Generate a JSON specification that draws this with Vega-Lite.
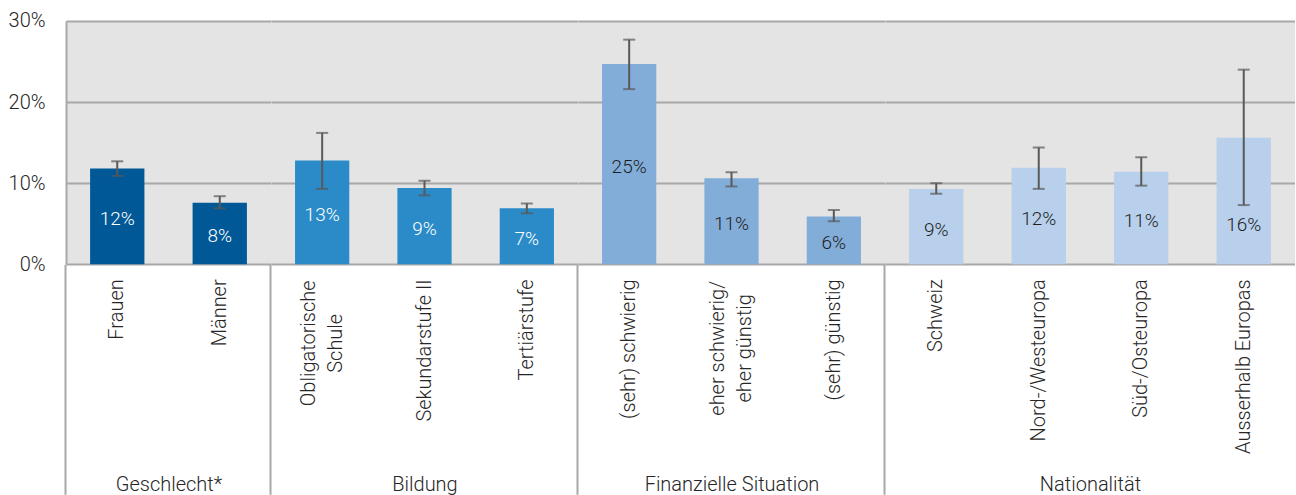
{
  "$schema": "https://vega.github.io/schema/vega-lite/v6.json",
  "padding": {"top": 11, "left": 8, "right": 0, "bottom": 0},
  "config": {"view": {"fill": "#E4E4E4", "stroke": null}, "font": "Roboto", "concat": {"spacing": 0}},
  "data": {"values": [
    {"group": "Geschlecht*", "cat": "Frauen", "value": 0.118, "lo": 0.109, "hi": 0.127},
    {"group": "Geschlecht*", "cat": "Männer", "value": 0.076, "lo": 0.069, "hi": 0.084},
    {"group": "Bildung", "cat": "Obligatorische|Schule", "value": 0.128, "lo": 0.093, "hi": 0.162},
    {"group": "Bildung", "cat": "Sekundarstufe II", "value": 0.094, "lo": 0.085, "hi": 0.103},
    {"group": "Bildung", "cat": "Tertiärstufe", "value": 0.069, "lo": 0.063, "hi": 0.075},
    {"group": "Finanzielle Situation", "cat": "(sehr) schwierig", "value": 0.247, "lo": 0.216, "hi": 0.277},
    {"group": "Finanzielle Situation", "cat": "eher schwierig/|eher günstig", "value": 0.106, "lo": 0.096, "hi": 0.1135},
    {"group": "Finanzielle Situation", "cat": "(sehr) günstig", "value": 0.059, "lo": 0.053, "hi": 0.067},
    {"group": "Nationalität", "cat": "Schweiz", "value": 0.093, "lo": 0.087, "hi": 0.100},
    {"group": "Nationalität", "cat": "Nord-/Westeuropa", "value": 0.119, "lo": 0.093, "hi": 0.144},
    {"group": "Nationalität", "cat": "Süd-/Osteuropa", "value": 0.114, "lo": 0.097, "hi": 0.132},
    {"group": "Nationalität", "cat": "Ausserhalb Europas", "value": 0.156, "lo": 0.073, "hi": 0.240}
  ]},
  "bounds": "flush",
  "spacing": 0,
  "hconcat": [
    {
      "width": 205, "height": 243.3,
      "transform": [{"filter": "datum.group === 'Geschlecht*'"}],
      "encoding": {"x": {"field": "cat", "type": "nominal", "sort": null,
        "scale": {"paddingInner": 0.47, "paddingOuter": 0.235},
        "axis": {"title": "Geschlecht*", "titleY": 220, "titleBaseline": "middle", "titleFont": "Roboto", "titleFontSize": 20, "titleFontWeight": 300, "titleColor": "#262626",
          "labelAngle": -90, "labelAlign": "right", "labelBaseline": "middle", "labelPadding": -215.5, "labelFont": "Roboto", "labelFontSize": 20, "labelFontWeight": 300, "labelColor": "#262626", "labelExpr": "split(datum.label, '|')", "labelLineHeight": 27, "labelLimit": 400, "labelOverlap": false,
          "domain": false, "grid": false, "ticks": true, "tickSize": 230, "tickWidth": 2, "bandPosition": -0.4434,
          "tickColor": {"condition": {"test": "datum.index === 0", "value": "#A8A8A8"}, "value": "transparent"}}}},
      "layer": [
        {"layer": [
          {"mark": {"type": "bar", "color": "#005896"},
           "encoding": {"y": {"field": "value", "type": "quantitative", "scale": {"domain": [0, 0.3], "nice": false},
             "axis": {"title": null, "values": [0, 0.1, 0.2, 0.3], "format": ".0%", "labelFont": "Roboto", "labelFontSize": 20, "labelFontWeight": 300, "labelColor": "#262626", "labelPadding": 21, "ticks": false, "domain": true, "domainColor": "#A8A8A8", "domainWidth": 2, "grid": true, "gridColor": "#A8A8A8", "gridWidth": 2}}}},
          {"mark": {"type": "rule", "color": "#595959", "strokeWidth": 2},
           "encoding": {"y": {"field": "lo", "type": "quantitative", "title": null}, "y2": {"field": "hi"}}},
          {"mark": {"type": "tick", "color": "#595959", "size": 12, "thickness": 2},
           "encoding": {"y": {"field": "lo", "type": "quantitative", "title": null}}},
          {"mark": {"type": "tick", "color": "#595959", "size": 12, "thickness": 2},
           "encoding": {"y": {"field": "hi", "type": "quantitative", "title": null}}}
        ]},
        {"mark": {"type": "text", "color": "#FFFFFF", "font": "Roboto", "fontSize": 19, "fontWeight": 300, "baseline": "middle", "dy": 3},
         "encoding": {"y": {"field": "value", "type": "quantitative", "scale": {"domain": [0, 0.6], "nice": false}, "axis": null},
           "text": {"field": "value", "type": "quantitative", "format": ".0%"}}}
      ],
      "resolve": {"scale": {"y": "independent"}}
    },
    {
      "width": 307, "height": 243.3,
      "transform": [{"filter": "datum.group === 'Bildung'"}],
      "encoding": {"x": {"field": "cat", "type": "nominal", "sort": null,
        "scale": {"paddingInner": 0.47, "paddingOuter": 0.235},
        "axis": {"title": "Bildung", "titleY": 220, "titleBaseline": "middle", "titleFont": "Roboto", "titleFontSize": 20, "titleFontWeight": 300, "titleColor": "#262626",
          "labelAngle": -90, "labelBaseline": "middle", "labelFont": "Roboto", "labelFontSize": 20, "labelFontWeight": 300, "labelColor": "#262626", "labelExpr": "split(datum.label, '|')", "labelLineHeight": 27, "labelLimit": 400, "labelOverlap": false,
          "labelAlign": {"expr": "datum.value === 'Obligatorische|Schule' ? 'center' : 'right'"},
          "labelPadding": {"expr": "datum.value === 'Obligatorische|Schule' ? -151.5 : -215.5"},
          "labelOffset": {"expr": "datum.value === 'Obligatorische|Schule' ? -13.5 : 0"},
          "domain": false, "grid": false, "ticks": true, "tickSize": 230, "tickWidth": 2, "bandPosition": -0.4434,
          "tickColor": {"condition": {"test": "datum.index === 0", "value": "#A8A8A8"}, "value": "transparent"}}}},
      "layer": [
        {"layer": [
          {"mark": {"type": "bar", "color": "#2B8BC8"},
           "encoding": {"y": {"field": "value", "type": "quantitative", "scale": {"domain": [0, 0.3], "nice": false},
             "axis": {"title": null, "values": [0, 0.1, 0.2, 0.3], "labels": false, "ticks": false, "domain": false, "grid": true, "gridColor": "#A8A8A8", "gridWidth": 2}}}},
          {"mark": {"type": "rule", "color": "#595959", "strokeWidth": 2},
           "encoding": {"y": {"field": "lo", "type": "quantitative", "title": null}, "y2": {"field": "hi"}}},
          {"mark": {"type": "tick", "color": "#595959", "size": 12, "thickness": 2},
           "encoding": {"y": {"field": "lo", "type": "quantitative", "title": null}}},
          {"mark": {"type": "tick", "color": "#595959", "size": 12, "thickness": 2},
           "encoding": {"y": {"field": "hi", "type": "quantitative", "title": null}}}
        ]},
        {"mark": {"type": "text", "color": "#FFFFFF", "font": "Roboto", "fontSize": 19, "fontWeight": 300, "baseline": "middle", "dy": 3},
         "encoding": {"y": {"field": "value", "type": "quantitative", "scale": {"domain": [0, 0.6], "nice": false}, "axis": null},
           "text": {"field": "value", "type": "quantitative", "format": ".0%"}}}
      ],
      "resolve": {"scale": {"y": "independent"}}
    },
    {
      "width": 307, "height": 243.3,
      "transform": [{"filter": "datum.group === 'Finanzielle Situation'"}],
      "encoding": {"x": {"field": "cat", "type": "nominal", "sort": null,
        "scale": {"paddingInner": 0.47, "paddingOuter": 0.235},
        "axis": {"title": "Finanzielle Situation", "titleY": 220, "titleBaseline": "middle", "titleFont": "Roboto", "titleFontSize": 20, "titleFontWeight": 300, "titleColor": "#262626",
          "labelAngle": -90, "labelBaseline": "middle", "labelFont": "Roboto", "labelFontSize": 20, "labelFontWeight": 300, "labelColor": "#262626", "labelExpr": "split(datum.label, '|')", "labelLineHeight": 27, "labelLimit": 400, "labelOverlap": false,
          "labelAlign": {"expr": "datum.value === 'eher schwierig/|eher günstig' ? 'center' : 'right'"},
          "labelPadding": {"expr": "datum.value === 'eher schwierig/|eher günstig' ? -146.5 : -215.5"},
          "labelOffset": {"expr": "datum.value === 'eher schwierig/|eher günstig' ? -13.5 : 0"},
          "domain": false, "grid": false, "ticks": true, "tickSize": 230, "tickWidth": 2, "bandPosition": -0.4434,
          "tickColor": {"condition": {"test": "datum.index === 0", "value": "#A8A8A8"}, "value": "transparent"}}}},
      "layer": [
        {"layer": [
          {"mark": {"type": "bar", "color": "#82ADD9"},
           "encoding": {"y": {"field": "value", "type": "quantitative", "scale": {"domain": [0, 0.3], "nice": false},
             "axis": {"title": null, "values": [0, 0.1, 0.2, 0.3], "labels": false, "ticks": false, "domain": false, "grid": true, "gridColor": "#A8A8A8", "gridWidth": 2}}}},
          {"mark": {"type": "rule", "color": "#595959", "strokeWidth": 2},
           "encoding": {"y": {"field": "lo", "type": "quantitative", "title": null}, "y2": {"field": "hi"}}},
          {"mark": {"type": "tick", "color": "#595959", "size": 12, "thickness": 2},
           "encoding": {"y": {"field": "lo", "type": "quantitative", "title": null}}},
          {"mark": {"type": "tick", "color": "#595959", "size": 12, "thickness": 2},
           "encoding": {"y": {"field": "hi", "type": "quantitative", "title": null}}}
        ]},
        {"mark": {"type": "text", "color": "#1F1F1F", "font": "Roboto", "fontSize": 19, "fontWeight": 300, "baseline": "middle", "dy": 3},
         "encoding": {"y": {"field": "value", "type": "quantitative", "scale": {"domain": [0, 0.6], "nice": false}, "axis": null},
           "text": {"field": "value", "type": "quantitative", "format": ".0%"}}}
      ],
      "resolve": {"scale": {"y": "independent"}}
    },
    {
      "width": 410, "height": 243.3,
      "transform": [{"filter": "datum.group === 'Nationalität'"}],
      "encoding": {"x": {"field": "cat", "type": "nominal", "sort": null,
        "scale": {"paddingInner": 0.47, "paddingOuter": 0.235},
        "axis": {"title": "Nationalität", "titleY": 220, "titleBaseline": "middle", "titleFont": "Roboto", "titleFontSize": 20, "titleFontWeight": 300, "titleColor": "#262626",
          "labelAngle": -90, "labelAlign": "right", "labelBaseline": "middle", "labelPadding": -215.5, "labelFont": "Roboto", "labelFontSize": 20, "labelFontWeight": 300, "labelColor": "#262626", "labelExpr": "split(datum.label, '|')", "labelLineHeight": 27, "labelLimit": 400, "labelOverlap": false,
          "domain": false, "grid": false, "ticks": true, "tickSize": 230, "tickWidth": 2, "bandPosition": -0.4434,
          "tickColor": {"condition": {"test": "datum.index === 0", "value": "#A8A8A8"}, "value": "transparent"}}}},
      "layer": [
        {"layer": [
          {"mark": {"type": "bar", "color": "#B8D0EB"},
           "encoding": {"y": {"field": "value", "type": "quantitative", "scale": {"domain": [0, 0.3], "nice": false},
             "axis": {"title": null, "values": [0, 0.1, 0.2, 0.3], "labels": false, "ticks": false, "domain": false, "grid": true, "gridColor": "#A8A8A8", "gridWidth": 2}}}},
          {"mark": {"type": "rule", "color": "#595959", "strokeWidth": 2},
           "encoding": {"y": {"field": "lo", "type": "quantitative", "title": null}, "y2": {"field": "hi"}}},
          {"mark": {"type": "tick", "color": "#595959", "size": 12, "thickness": 2},
           "encoding": {"y": {"field": "lo", "type": "quantitative", "title": null}}},
          {"mark": {"type": "tick", "color": "#595959", "size": 12, "thickness": 2},
           "encoding": {"y": {"field": "hi", "type": "quantitative", "title": null}}}
        ]},
        {"mark": {"type": "text", "color": "#1F1F1F", "font": "Roboto", "fontSize": 19, "fontWeight": 300, "baseline": "middle", "dy": {"expr": "datum.cat === 'Ausserhalb Europas' ? 24 : 3"}},
         "encoding": {"y": {"field": "value", "type": "quantitative", "scale": {"domain": [0, 0.6], "nice": false}, "axis": null},
           "text": {"field": "value", "type": "quantitative", "format": ".0%"}}}
      ],
      "resolve": {"scale": {"y": "independent"}}
    }
  ]
}
